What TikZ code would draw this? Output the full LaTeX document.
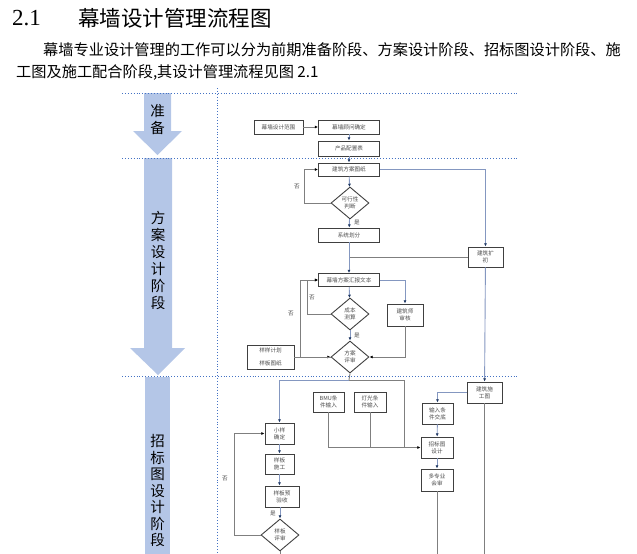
\documentclass[tikz,border=0pt]{standalone}
\usepackage{fontspec}
\newfontfamily\cjk{Noto Sans CJK SC}
\newfontfamily\lserif{Liberation Serif}
\usetikzlibrary{arrows.meta,shapes.geometric}
\definecolor{stageblue}{HTML}{B4C6E7}
\definecolor{dotblue}{HTML}{4472C4}
\definecolor{tipnavy}{HTML}{1F3864}
\definecolor{linkblue}{HTML}{8497C0}
\definecolor{linkgray}{HTML}{7F7F7F}
\begin{document}
\begin{tikzpicture}[x=1pt,y=-1pt,
	box/.style={draw=black!75,line width=0.9pt,fill=white,inner sep=0pt,text=black!70,font=\cjk\fontsize{5.6}{7.2}\selectfont,align=center},
	dec/.style={diamond,draw=black!75,line width=0.9pt,fill=white,inner sep=0pt,minimum width=38pt,minimum height=32pt,text=black!70,font=\cjk\fontsize{5.6}{7.2}\selectfont,align=center},
	arr/.style={draw=linkblue,line width=0.9pt,-{Latex[length=3.2pt,width=3pt,color=tipnavy]}},
	back/.style={draw=linkgray,line width=0.9pt,-{Latex[length=3.2pt,width=3pt,color=black]}},
	plain/.style={draw=linkgray,line width=0.9pt},
	lbl/.style={text=black!70,font=\cjk\fontsize{5.6}{6}\selectfont,inner sep=0pt},
	stage/.style={font=\cjk\fontsize{14.5}{17}\selectfont,align=center,inner sep=0pt},
	sep/.style={dotblue,dotted,line width=0.9pt}]
	\useasboundingbox (0,0) rectangle (637,554);
	%-- heading and text
	\node[anchor=west,inner sep=0pt,font=\lserif\fontsize{23}{23}\selectfont] (num) at (12,18) {2.1};
	\node[anchor=west,inner sep=0pt,font=\cjk\fontsize{21.5}{21.5}\selectfont] (title) at (78,18) {幕墙设计管理流程图};
	\node[anchor=west,inner sep=0pt,font=\cjk\fontsize{15.2}{15.2}\selectfont] (line1) at (43,50) {幕墙专业设计管理的工作可以分为前期准备阶段、方案设计阶段、招标图设计阶段、施};
	\node[anchor=west,inner sep=0pt,font=\cjk\fontsize{15.2}{15.2}\selectfont] (line2) at (16,73) {工图及施工配合阶段,其设计管理流程见图 2.1};
	%-- stage arrows
	\fill[stageblue] (144,93) -- (171,93) -- (171,131) -- (182,131) -- (157.5,155) -- (133,131) -- (144,131) -- cycle;
	\fill[stageblue] (144,158) -- (172,158) -- (172,348) -- (185,348) -- (158,375) -- (130,348) -- (144,348) -- cycle;
	\fill[stageblue] (145,377) rectangle (170,554);
	\node[stage] (s1) at (157.5,120) {准\\备};
	\node[stage] (s2) at (158,260) {方\\案\\设\\计\\阶\\段};
	\node[stage,font=\cjk\fontsize{14.5}{16.5}\selectfont] (s3) at (157.5,491) {招\\标\\图\\设\\计\\阶\\段};
	%-- separators
	\draw[sep] (122,93) -- (517,93);
	\draw[sep] (122,158) -- (517,158);
	\draw[sep] (122,376) -- (517,376);
	\draw[sep] (217,88) -- (217,554);
	%-- nodes
	\node[box,minimum width=49pt,minimum height=14pt] (fw) at (278.5,127) {幕墙设计范围};
	\node[box,minimum width=61pt,minimum height=14pt] (gw) at (349,127) {幕墙顾问确定};
	\node[box,minimum width=61pt,minimum height=15pt] (pz) at (349,148.5) {产品配置表};
	\node[box,minimum width=61pt,minimum height=13pt] (tz) at (349,169.5) {建筑方案图纸};
	\node[dec] (kx) at (350,203) {可行性\\判断};
	\node[box,minimum width=61pt,minimum height=14pt] (xt) at (349,235) {系统划分};
	\node[box,minimum width=35pt,minimum height=20pt] (kc) at (485.5,257) {建筑扩\\初};
	\node[box,minimum width=61pt,minimum height=13pt] (hb) at (349,280) {幕墙方案汇报文本};
	\node[dec] (cb) at (350,314) {成本\\测算};
	\node[box,minimum width=36pt,minimum height=22pt] (sh) at (405,315) {建筑师\\审核};
	\node[dec] (ps) at (350,357) {方案\\评审};
	\node[box,minimum width=47pt,minimum height=24pt,font=\cjk\fontsize{5.6}{12.5}\selectfont] (jh) at (270.5,357) {样样计划\\样板图纸};
	\node[box,minimum width=31pt,minimum height=20pt] (bmu) at (328.5,402) {BMU条\\件输入};
	\node[box,minimum width=32pt,minimum height=20pt] (dg) at (370,402) {灯光条\\件输入};
	\node[box,minimum width=35pt,minimum height=21pt] (sg) at (484.5,392.5) {建筑施\\工图};
	\node[box,minimum width=31pt,minimum height=21pt] (sr) at (437.5,413.5) {输入条\\件交底};
	\node[box,minimum width=32pt,minimum height=21pt] (zb) at (437,447.5) {招标图\\设计};
	\node[box,minimum width=32pt,minimum height=22pt] (dz) at (437,480) {多专业\\会审};
	\node[box,minimum width=29pt,minimum height=21pt] (xy) at (279.5,433.5) {小样\\确定};
	\node[box,minimum width=29pt,minimum height=20pt] (yb) at (279.5,464) {样板\\施工};
	\node[box,minimum width=34pt,minimum height=21pt] (ys) at (282,496.5) {样板预\\验收};
	\node[dec] (ps2) at (280,535) {样板\\评审};
	%-- labels
	\node[lbl] (n1) at (297,187) {否};
	\node[lbl] (y1) at (357,222) {是};
	\node[lbl] (n2) at (312,298) {否};
	\node[lbl] (n3) at (291,314) {否};
	\node[lbl] (y2) at (357,335) {是};
	\node[lbl] (y3) at (273,513) {是};
	\node[lbl] (n4) at (225,479) {否};
	%-- connectors
	\coordinate (fen) at (349,380);
	\coordinate (hui) at (404,447.5);
	\coordinate (e1) at (484.5,554);
	\coordinate (e2) at (437,554);
	\coordinate (e3) at (280,554);
	\draw[back] (fw) -- (gw);
	\draw[arr] (gw) -- (pz);
	\draw[arr] (pz) -- (tz);
	\draw[arr] (tz) -- (kx);
	\draw[back] (kx.west) -- (304,203) |- (tz.west);
	\draw[arr] (kx) -- (xt);
	\draw[arr] (tz.east) -| (kc.north);
	\draw[plain] (kc.west) -- (xt.south |- kc.west);
	\draw[arr] (xt) -- (hb);
	\draw[arr] (hb) -- (cb);
	\draw[arr] (hb.east) -| (sh.north);
	\draw[back] (cb.west) -- (307,314) |- (hb.west);
	\draw[arr] (cb) -- (ps);
	\draw[back] (sh.south) |- (ps.east);
	\draw[back] (jh.east) -- (ps.west);
	\draw[back] (ps.west) -- (300,357) |- (hb.west);
	\draw[arr] (kc) -- (sg);
	\draw[plain] (ps.south) -- (fen);
	\draw[arr] (fen) -| (xy.north);
	\draw[back] (fen) -| (hui) -- (zb.west);
	\draw[plain] (bmu.south) |- (hui);
	\draw[plain] (dg.south) -- (dg.south |- hui);
	\draw[arr] (sg.west) -| (sr.north);
	\draw[arr] (sr) -- (zb);
	\draw[arr] (zb) -- (dz);
	\draw[plain] (sg.south) -- (e1);
	\draw[plain] (dz.south) -- (e2);
	\draw[arr] (xy) -- (yb);
	\draw[arr] (yb) -- (yb.south |- ys.north);
	\draw[arr] (ys.south -| ps2.north) -- (ps2.north);
	\draw[back] (ps2.west) -- (234,535) |- (xy.west);
	\draw[plain] (ps2.south) -- (e3);
\end{tikzpicture}
\end{document}
